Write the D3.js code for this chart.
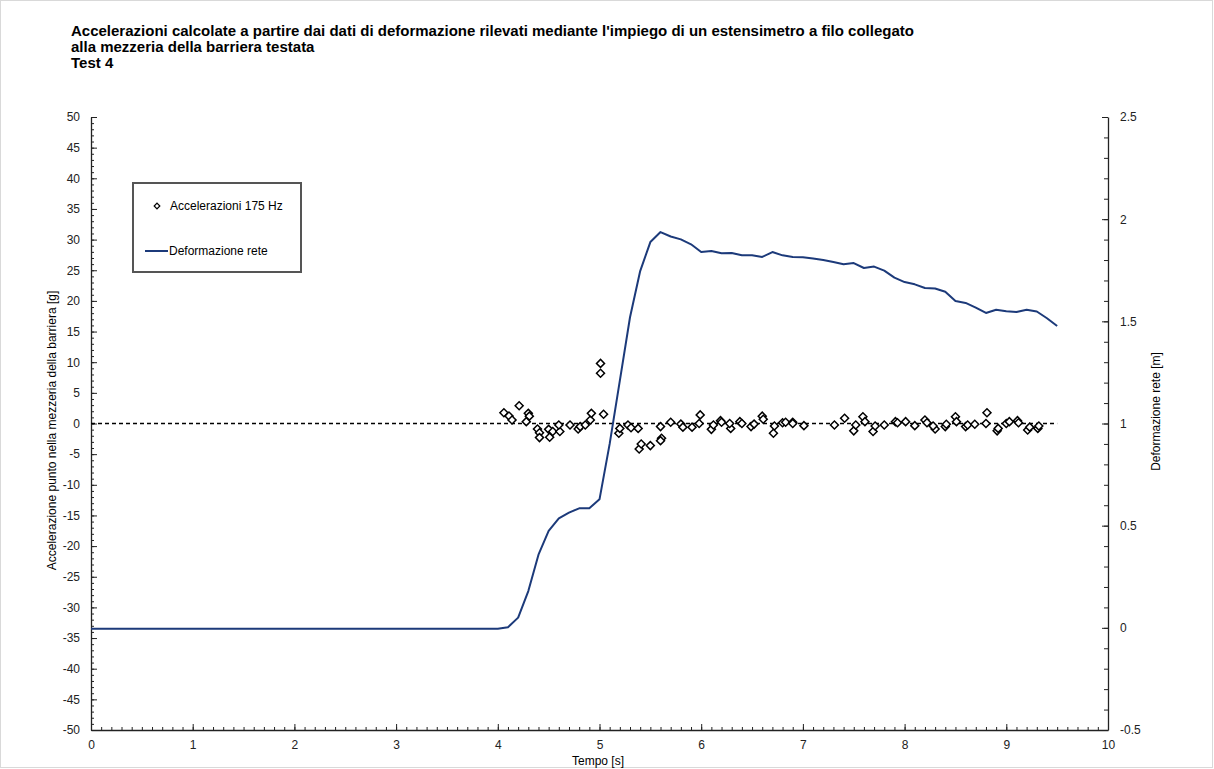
<!DOCTYPE html>
<html><head><meta charset="utf-8">
<script src="https://cdn.jsdelivr.net/npm/d3@7"></script>
<style>
html,body{margin:0;padding:0;background:#fff;}
svg{display:block;font-family:"Liberation Sans",Arial,sans-serif;}
</style></head>
<body>
<svg id="chart" width="1214" height="769"></svg>
<script>
// ---- data ----
const titleLines = [
  "Accelerazioni calcolate a partire dai dati di deformazione rilevati mediante l'impiego di un estensimetro a filo collegato",
  "alla mezzeria della barriera testata",
  "Test 4"
];
const xTicks = [0,1,2,3,4,5,6,7,8,9,10];
const yLeftTicks = [50,45,40,35,30,25,20,15,10,5,0,-5,-10,-15,-20,-25,-30,-35,-40,-45,-50];
const yRightTicks = [-0.5,0,0.5,1,1.5,2,2.5];

const defTime = [0,4.0,4.1,4.2,4.3,4.4,4.5,4.6,4.7,4.8,4.9,5.0,5.1,5.2,5.3,5.4,5.5,5.6,5.7,5.8,5.9,6.0,6.1,6.2,6.3,6.4,6.5,6.6,6.7,6.8,6.9,7.0,7.1,7.2,7.3,7.4,7.5,7.6,7.7,7.8,7.9,8.0,8.1,8.2,8.3,8.4,8.5,8.6,8.7,8.8,8.9,9.0,9.1,9.2,9.3,9.4,9.5];
const defValue = [-0.004,-0.004,0.003,0.05,0.18,0.358,0.474,0.536,0.564,0.585,0.585,0.629,0.90,1.21,1.52,1.746,1.888,1.937,1.915,1.901,1.877,1.839,1.844,1.833,1.834,1.823,1.823,1.815,1.839,1.823,1.815,1.814,1.808,1.800,1.790,1.779,1.785,1.761,1.768,1.748,1.714,1.692,1.681,1.663,1.661,1.645,1.599,1.590,1.567,1.541,1.557,1.549,1.546,1.557,1.548,1.515,1.477];

const accTime = [4.06,4.11,4.14,4.21,4.30,4.31,4.28,4.39,4.41,4.41,4.50,4.51,4.54,4.61,4.60,4.71,4.79,4.81,4.86,4.91,4.92,5.01,5.01,5.04,5.19,5.20,5.28,5.31,5.38,5.39,5.41,5.50,5.61,5.60,5.60,5.70,5.80,5.82,5.91,5.99,5.98,6.10,6.12,6.19,6.20,6.29,6.28,6.38,6.40,6.49,6.52,6.60,6.61,6.71,6.72,6.80,6.83,6.90,6.90,7.01,7.31,7.41,7.50,7.52,7.59,7.61,7.69,7.71,7.80,7.91,7.93,8.01,8.10,8.20,8.22,8.30,8.28,8.40,8.41,8.50,8.51,8.60,8.62,8.69,8.81,8.80,8.91,8.92,9.00,9.03,9.11,9.12,9.21,9.23,9.31,9.32];
const accValue = [1.76,1.22,0.57,2.9,1.66,1.2,0.3,-0.9,-1.5,-2.3,-0.95,-2.25,-1.3,-1.3,-0.25,-0.25,-0.9,-0.5,-0.25,0.57,1.66,9.8,8.2,1.5,-1.6,-0.8,-0.25,-0.7,-0.8,-4.16,-3.35,-3.6,-2.4,-2.8,-0.5,0.2,-0.1,-0.6,-0.6,1.4,0,-0.95,-0.25,0.46,0.2,-0.8,0,0.3,0,-0.5,-0.1,1.2,0.7,-1.6,-0.4,0.13,0.2,0.2,0,-0.35,-0.25,0.85,-1.2,-0.25,1.1,0.3,-1.3,-0.4,-0.25,0.3,0.13,0.3,-0.35,0.57,0.13,-0.9,-0.4,-0.5,-0.13,1.1,0.3,-0.5,-0.25,-0.13,1.76,0,-1.2,-0.8,0,0.3,0.46,0.13,-1.06,-0.6,-0.8,-0.4];

const zeroLine = [0, 9.5];
const legendLabels = ["Accelerazioni 175 Hz", "Deformazione rete"];
const axisTitles = {x:"Tempo [s]", yl:"Accelerazione punto nella mezzeria della barriera [g]", yr:"Deformazione rete [m]"};

// ---- layout ----
const L = 91, R = 1108, T = 117, B = 730;
const lineColor = "#1c3a7a";
const svg = d3.select("#chart");

svg.append("rect").attr("x",0.5).attr("y",0.5).attr("width",1212).attr("height",767)
  .attr("fill","none").attr("stroke","#d9d9d9");

const x = d3.scaleLinear().domain([0,10]).range([L,R]);
const yL = d3.scaleLinear().domain([-50,50]).range([B,T]);
const yR = d3.scaleLinear().domain([-0.5,2.5]).range([B,T]);

// title
const title = svg.append("text").attr("font-weight","bold").attr("font-size",15).attr("fill","#000");
titleLines.forEach((s,i)=>title.append("tspan").attr("x",71).attr("y",36+i*16).text(s));

// axes
const axisColor = "#222";
const fmt = d => String(d);
function styleAxis(g){
  g.select(".domain").attr("stroke",axisColor).attr("stroke-width",1.3);
  g.selectAll(".tick line").attr("stroke",axisColor);
  g.selectAll(".tick text").attr("font-size",12).attr("fill","#222").attr("font-family","Liberation Sans, Arial, sans-serif");
}
// minor ticks
const xMinor = d3.range(0,101).map(d=>d/10);
svg.append("g").attr("transform",`translate(0,${B})`)
  .call(d3.axisBottom(x).tickValues(xMinor).tickSize(-3).tickFormat("").tickSizeOuter(0))
  .call(g=>{g.select(".domain").remove(); g.selectAll("line").attr("stroke",axisColor);});
const gx = svg.append("g").attr("transform",`translate(0,${B})`)
  .call(d3.axisBottom(x).tickValues(xTicks).tickSize(-6).tickSizeOuter(0).tickPadding(10).tickFormat(fmt));
styleAxis(gx);

const yMinor = d3.range(-50,51);
svg.append("g").attr("transform",`translate(${L},0)`)
  .call(d3.axisRight(yL).tickValues(yMinor).tickSize(3).tickFormat("").tickSizeOuter(0))
  .call(g=>{g.select(".domain").remove(); g.selectAll("line").attr("stroke",axisColor);});
const gyl = svg.append("g").attr("transform",`translate(${L},0)`)
  .call(d3.axisLeft(yL).tickValues(yLeftTicks).tickSize(-6).tickSizeOuter(0).tickPadding(11).tickFormat(fmt));
styleAxis(gyl);

const yRMinor = d3.range(-5,26).map(d=>d/10);
svg.append("g").attr("transform",`translate(${R},0)`)
  .call(d3.axisLeft(yR).tickValues(yRMinor).tickSize(4).tickFormat("").tickSizeOuter(0))
  .call(g=>{g.select(".domain").remove(); g.selectAll("line").attr("stroke",axisColor);});
const gyr = svg.append("g").attr("transform",`translate(${R},0)`)
  .call(d3.axisRight(yR).tickValues(yRightTicks).tickSize(-6).tickSizeOuter(0).tickPadding(12).tickFormat(fmt));
styleAxis(gyr);

// axis titles
svg.append("text").attr("x",598).attr("y",765).attr("text-anchor","middle").attr("font-size",12).text(axisTitles.x);
svg.append("text").attr("transform",`translate(56,${(T+B)/2+7}) rotate(-90)`).attr("text-anchor","middle").attr("font-size",12).text(axisTitles.yl);
svg.append("text").attr("transform",`translate(1160,${(T+B)/2-12}) rotate(-90)`).attr("text-anchor","middle").attr("font-size",12).text(axisTitles.yr);

// zero dashed line
svg.append("line").attr("x1",x(zeroLine[0])).attr("x2",x(zeroLine[1])).attr("y1",yL(0)).attr("y2",yL(0))
  .attr("stroke","#000").attr("stroke-width",1.3).attr("stroke-dasharray","4,3");

// deformation line
const defData = defTime.map((t,i)=>[t,defValue[i]]);
svg.append("path").datum(defData)
  .attr("d",d3.line().x(d=>x(d[0])).y(d=>yR(d[1])))
  .attr("fill","none").attr("stroke",lineColor).attr("stroke-width",2).attr("stroke-linejoin","round");

// acceleration points
const sym = d3.symbol().type(d3.symbolSquare).size(32);
const accData = accTime.map((t,i)=>[t,accValue[i]]);
svg.append("g").selectAll("path").data(accData).join("path")
  .attr("d",sym)
  .attr("transform",d=>`translate(${x(d[0])},${yL(d[1])}) rotate(45)`)
  .attr("fill","#fff").attr("stroke","#000").attr("stroke-width",1.5);

// legend
const lg = svg.append("g");
lg.append("rect").attr("x",133).attr("y",183).attr("width",168).attr("height",89)
  .attr("fill","#fff").attr("stroke","#555").attr("stroke-width",2);
lg.append("path").attr("d",d3.symbol().type(d3.symbolSquare).size(16))
  .attr("transform","translate(157,206) rotate(45)").attr("fill","#fff").attr("stroke","#000").attr("stroke-width",1.2);
lg.append("text").attr("x",170).attr("y",210).attr("font-size",12).text(legendLabels[0]);
lg.append("line").attr("x1",145).attr("x2",168).attr("y1",251).attr("y2",251).attr("stroke",lineColor).attr("stroke-width",2);
lg.append("text").attr("x",169).attr("y",255).attr("font-size",12).text(legendLabels[1]);
</script>
</body></html>
